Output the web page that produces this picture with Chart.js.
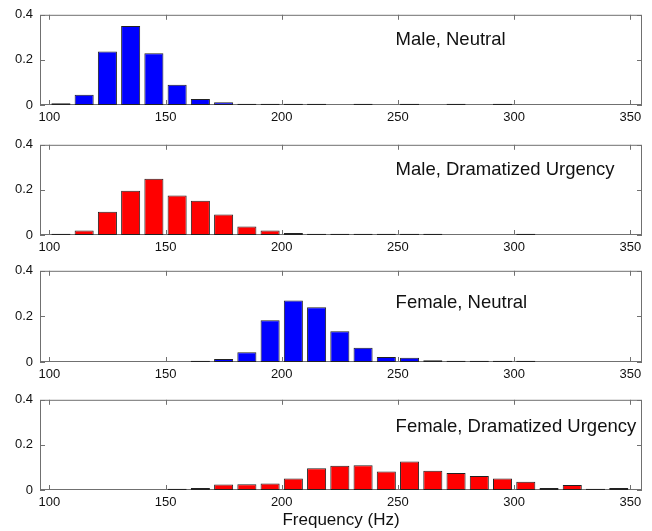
<!DOCTYPE html>
<html>
<head>
<meta charset="utf-8">
<script src="https://cdn.jsdelivr.net/npm/chart.js@4.4.0/dist/chart.umd.min.js"></script>
<style>
  body { margin: 0; background: #fff; }
  #wrap { position: relative; width: 652px; height: 531px; }
  canvas { position: absolute; left: 0; }
</style>
</head>
<body>
<div id="wrap">
  <canvas id="p0" width="652" height="130" style="top:0px"></canvas>
  <canvas id="p1" width="652" height="130" style="top:130px"></canvas>
  <canvas id="p2" width="652" height="131" style="top:256px"></canvas>
  <canvas id="p3" width="652" height="146" style="top:385px"></canvas>
</div>
<script>
// histogram bins (Hz), 10 Hz wide
const binCenters = [105, 115, 125, 135, 145, 155, 165, 175, 185, 195, 205, 215, 225,
  235, 245, 255, 265, 275, 285, 295, 305, 315, 325, 335, 345];
const xTicks = [100, 150, 200, 250, 300, 350];
const yTicks = [0, 0.2, 0.4];

const maleNeutral = [0.008, 0.045, 0.237, 0.350, 0.230, 0.090, 0.027, 0.012, 0.006, 0.006,
  0.006, 0.006, 0, 0.006, 0, 0.006, 0, 0.006, 0, 0.006, 0, 0, 0, 0, 0];
const maleUrgent = [0.006, 0.020, 0.103, 0.196, 0.250, 0.175, 0.152, 0.091, 0.038, 0.020,
  0.009, 0.006, 0.006, 0.006, 0.006, 0.006, 0.006, 0, 0, 0, 0.006, 0, 0, 0, 0];
const femaleNeutral = [0, 0, 0, 0, 0, 0, 0.006, 0.013, 0.043, 0.183, 0.270, 0.240, 0.135,
  0.062, 0.022, 0.019, 0.008, 0.006, 0.006, 0.006, 0.006, 0, 0, 0, 0];
const femaleUrgent = [0, 0, 0, 0, 0, 0.006, 0.009, 0.024, 0.025, 0.029, 0.051, 0.096, 0.107,
  0.110, 0.082, 0.126, 0.085, 0.075, 0.062, 0.051, 0.037, 0.009, 0.022, 0.006, 0.009];

const panelLabels = ['Male, Neutral', 'Male, Dramatized Urgency', 'Female, Neutral', 'Female, Dramatized Urgency'];
const xLabel = 'Frequency (Hz)';

const FONT = '"Liberation Sans", Arial, sans-serif';
const BLUE = '#0000ff';
const RED = '#ff0000';

const panels = [
  { id: 'p0', values: maleNeutral, color: BLUE, labelY: 0.264, axisH: 25 },
  { id: 'p1', values: maleUrgent, color: RED, labelY: 0.268, axisH: 25 },
  { id: 'p2', values: femaleNeutral, color: BLUE, labelY: 0.235, axisH: 25 },
  { id: 'p3', values: femaleUrgent, color: RED, labelY: 0.255, axisH: 41, title: true },
];

// box + inward ticks like matlab (under the bars), plus the panel caption on top
const frameAndLabel = {
  id: 'frameAndLabel',
  beforeDatasetsDraw(chart) {
    const { ctx, chartArea: a } = chart;
    const x = chart.scales.x;
    const y = chart.scales.y;
    ctx.save();
    ctx.strokeStyle = '#707070';
    ctx.lineWidth = 1;
    ctx.strokeRect(a.left + 0.5, a.top + 0.5, a.width - 1, a.height - 1);
    ctx.beginPath();
    xTicks.forEach((v) => {
      const px = Math.round(x.getPixelForValue(v)) + 0.5;
      ctx.moveTo(px, a.bottom); ctx.lineTo(px, a.bottom - 5);
      ctx.moveTo(px, a.top); ctx.lineTo(px, a.top + 5);
    });
    yTicks.forEach((v) => {
      const py = Math.round(y.getPixelForValue(v)) + 0.5;
      ctx.moveTo(a.left, py); ctx.lineTo(a.left + 5, py);
      ctx.moveTo(a.right, py); ctx.lineTo(a.right - 5, py);
    });
    ctx.stroke();
    ctx.restore();
  },
  afterDraw(chart, args, opts) {
    const { ctx } = chart;
    const x = chart.scales.x;
    const y = chart.scales.y;
    ctx.save();
    ctx.fillStyle = '#111';
    ctx.font = '18.5px ' + FONT;
    ctx.textBaseline = 'alphabetic';
    ctx.fillText(opts.text, x.getPixelForValue(opts.x), y.getPixelForValue(opts.y));
    ctx.restore();
  },
};

const makePanel = (p, i) => {
  return new Chart(document.getElementById(p.id), {
    type: 'bar',
    data: {
      datasets: [{
        data: binCenters.map((c, k) => ({ x: c, y: p.values[k] })),
        backgroundColor: p.color,
        borderColor: '#222',
        borderWidth: 1,
        borderSkipped: false,
        categoryPercentage: 1,
        barPercentage: 0.82,
      }],
    },
    options: {
      responsive: false,
      animation: false,
      devicePixelRatio: 1,
      layout: { padding: { top: 14, right: 10, left: 0, bottom: 0 } },
      plugins: {
        legend: { display: false },
        tooltip: { enabled: false },
        frameAndLabel: { text: panelLabels[i], x: 249, y: p.labelY },
      },
      scales: {
        x: {
          type: 'linear',
          min: 96,
          max: 355,
          offset: false,
          grid: { display: false, drawTicks: false },
          border: { display: false },
          afterBuildTicks: (s) => { s.ticks = xTicks.map((v) => ({ value: v })); },
          afterFit: (s) => { s.height = p.axisH; },
          ticks: { padding: 5, color: '#111', font: { family: FONT, size: 13 }, maxRotation: 0 },
          title: {
            display: !!p.title,
            text: xLabel,
            color: '#111',
            font: { family: FONT, size: 17 },
            padding: { top: 0, bottom: 0 },
          },
        },
        y: {
          min: 0,
          max: 0.4,
          grid: { display: false, drawTicks: false },
          border: { display: false },
          afterBuildTicks: (s) => { s.ticks = yTicks.map((v) => ({ value: v })); },
          afterFit: (s) => { s.width = 40; },
          ticks: {
            padding: 7,
            color: '#111',
            font: { family: FONT, size: 13 },
            callback: (v) => String(v),
          },
        },
      },
    },
    plugins: [frameAndLabel],
  });
};

const charts = panels.map(makePanel);
</script>
</body>
</html>
